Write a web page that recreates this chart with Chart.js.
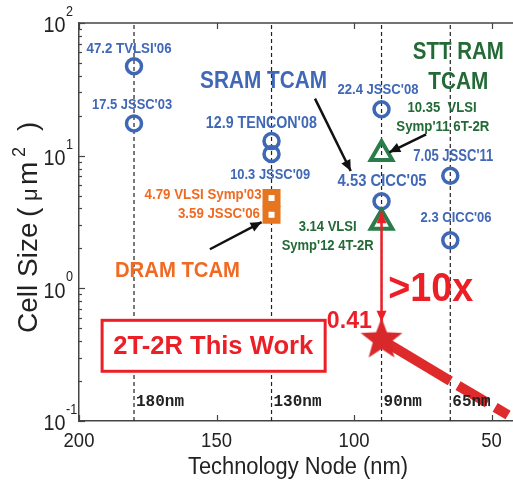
<!DOCTYPE html>
<html><head><meta charset="utf-8">
<script src="https://cdn.jsdelivr.net/npm/chart.js@4.4.1/dist/chart.umd.min.js"></script>
<style>html,body{margin:0;padding:0;background:#fff;}canvas{display:block;}</style>
</head><body>
<canvas id="c" width="513" height="482"></canvas>
<script>
// ---------------- data ----------------
const nodeLines   = [180, 130, 90, 65];
const nodeLabels  = ['180nm', '130nm', '90nm', '65nm'];
const sramNode    = [180, 180, 130, 130, 90, 90, 65, 65];
const sramCell    = [47.2, 17.5, 12.9, 10.3, 22.4, 4.53, 7.05, 2.3];
const sramLabels  = ["47.2 TVLSI'06", "17.5 JSSC'03", "12.9 TENCON'08", "10.3 JSSC'09", "22.4 JSSC'08", "4.53 CICC'05", "7.05 JSSC'11", "2.3 CICC'06"];
const dramNode    = [130, 130];
const dramCell    = [4.79, 3.59];
const dramLabels  = ["4.79 VLSI Symp'03", "3.59 JSSC'06"];
const sttNode     = [90, 90];
const sttCell     = [10.35, 3.14];
const sttLabels   = [["10.35  VLSI", "Symp'11 6T-2R"], ["3.14 VLSI", "Symp'12 4T-2R"]];
const thisNode    = [90];
const thisCell    = [0.41];
const trendNode   = [90, 65, 44];
const trendCell   = [0.41, 0.2, 0.111];
const xTickValues = [200, 150, 100, 50];
const yExponents  = [-1, 0, 1, 2];
const xRange      = [42.2, 200];
const yRange      = [0.1, 100];

// ---------------- styles ----------------
const COL = {blue:'#4068B6', orange:'#F16A22', green:'#236A37', red:'#EC1F27', black:'#111111'};
const FONT = '"Liberation Sans", Arial, Helvetica, sans-serif';

// annotation layout (data units: x = nm, y = cell size); w = text width px
const notes = [
  {t:sramLabels[0], x:181.8, y:65.2, c:'blue', s:14, w:85},
  {t:sramLabels[1], x:180.7, y:24.8, c:'blue', s:15, w:80},
  {t:'SRAM TCAM',   x:132.9, y:37.6, c:'blue', s:23, w:127},
  {t:sramLabels[2], x:133.7, y:18.0, c:'blue', s:16, w:111},
  {t:sramLabels[3], x:130.5, y:7.33, c:'blue', s:15, w:80},
  {t:dramLabels[0], x:133.6, y:5.18, c:'orange', s:15, w:117, a:'right'},
  {t:dramLabels[1], x:134.2, y:3.75, c:'orange', s:15, w:82, a:'right'},
  {t:'DRAM TCAM',   x:164.2, y:1.403, c:'orange', s:22, w:125},
  {t:sramLabels[4], x:91.3, y:32.0, c:'blue', s:15, w:81},
  {t:'STT RAM',     x:62.1, y:61.4, c:'green', s:23, w:91},
  {t:'TCAM',        x:62.1, y:37.1, c:'green', s:24, w:60},
  {t:sttLabels[0][0], x:68.0, y:23.3, c:'green', s:15, w:69},
  {t:sttLabels[0][1], x:67.7, y:16.7, c:'green', s:15, w:93},
  {t:sramLabels[5], x:89.8, y:6.54, c:'blue', s:16, w:89},
  {t:sramLabels[6], x:63.9, y:10.08, c:'blue', s:16, w:80},
  {t:sramLabels[7], x:62.9, y:3.48, c:'blue', s:15, w:71},
  {t:sttLabels[1][0], x:109.6, y:2.95, c:'green', s:14, w:58},
  {t:sttLabels[1][1], x:109.6, y:2.12, c:'green', s:14, w:92},
  {t:'>10x',        x:72.1, y:1.04, c:'red', s:41, w:85},
  {t:'0.41',        x:101.7, y:0.584, c:'red', s:24, w:45},
  {t:'2T-2R This Work', x:151.2, y:0.373, c:'red', s:25, w:200}
];
const arrows = [
  {x1:114.2, y1:26.9, x2:101.2, y2:7.66, c:'black'},
  {x1:73.8,  y1:14.5, x2:87.2,  y2:10.6, c:'black'},
  {x1:152.4, y1:1.97, x2:133.6, y2:3.16, c:'black'},
  {x1:90, y1:0.56, x2:90, y2:3.74, c:'red', both:true}
];
const workBox = {x1:191.6, x2:110.5, y1:0.574, y2:0.237};

// ---------------- helpers ----------------
function drawText(ctx, s, px, py, o) {
  ctx.save();
  ctx.font = (o.weight || 'bold') + ' ' + o.s + 'px ' + (o.family || FONT);
  const m = ctx.measureText(s).width;
  const sx = o.w ? o.w / m : (o.sx || 1);
  ctx.translate(px, py);
  ctx.scale(sx, 1);
  ctx.textAlign = o.a || 'center';
  ctx.textBaseline = 'alphabetic';
  ctx.fillStyle = o.color;
  ctx.fillText(s, 0, o.s * 0.358);
  ctx.restore();
}
function arrow(ctx, x1, y1, x2, y2, color, both) {
  const L = 11, W = 5;
  const drawHead = (ax, ay, bx, by) => {
    const ang = Math.atan2(by - ay, bx - ax);
    ctx.beginPath();
    ctx.moveTo(bx, by);
    ctx.lineTo(bx - L * Math.cos(ang) + W * Math.sin(ang), by - L * Math.sin(ang) - W * Math.cos(ang));
    ctx.lineTo(bx - L * Math.cos(ang) - W * Math.sin(ang), by - L * Math.sin(ang) + W * Math.cos(ang));
    ctx.closePath();
    ctx.fill();
  };
  ctx.save();
  ctx.strokeStyle = color; ctx.fillStyle = color; ctx.lineWidth = 2.5;
  ctx.beginPath(); ctx.moveTo(x1, y1); ctx.lineTo(x2, y2); ctx.stroke();
  drawHead(x1, y1, x2, y2);
  if (both) drawHead(x2, y2, x1, y1);
  ctx.restore();
}
function starImage(R, color) {
  const cv = document.createElement('canvas');
  const size = Math.ceil(2 * R + 2);
  cv.width = size; cv.height = size;
  const g = cv.getContext('2d');
  const c = size / 2, r = R * 0.42;
  g.beginPath();
  for (let i = 0; i < 10; i++) {
    const rad = (i % 2 === 0) ? R : r;
    const a = -Math.PI / 2 + i * Math.PI / 5;
    const px = c + rad * Math.cos(a), py = c + rad * Math.sin(a);
    if (i === 0) g.moveTo(px, py); else g.lineTo(px, py);
  }
  g.closePath();
  g.fillStyle = color; g.fill();
  return cv;
}
const pts = (xs, ys) => xs.map((v, i) => ({x: v, y: ys[i]}));

// ---------------- datasets ----------------
const datasets = [];
datasets.push({
  type: 'scatter', label: 'This work', data: pts(thisNode, thisCell),
  pointStyle: starImage(22, '#D8282A'), pointRadius: 22
});
datasets.push({
  type: 'line', label: 'trend', data: pts(trendNode, trendCell),
  showLine: true, fill: false, pointRadius: 0, borderWidth: 10, borderCapStyle: 'butt',
  borderColor: '#DE2A2B', tension: 0,
  segment: {
    borderDash: c => c.p0DataIndex >= 1 ? [34, 9] : undefined,
    borderDashOffset: c => c.p0DataIndex >= 1 ? 34 : undefined
  }
});
datasets.push({
  type: 'scatter', label: 'STT RAM TCAM', data: pts(sttNode, sttCell),
  pointStyle: 'triangle', pointRadius: 12.5, pointBorderWidth: 4,
  pointBorderColor: '#2A7C4A', pointBackgroundColor: 'rgba(0,0,0,0)'
});
datasets.push({
  type: 'scatter', label: 'DRAM TCAM', data: pts(dramNode, dramCell),
  pointStyle: 'rect', pointRadius: 8.5, pointBorderWidth: 6,
  pointBorderColor: '#E5761F', pointBackgroundColor: '#ffffff'
});
datasets.push({
  type: 'scatter', label: 'SRAM TCAM', data: pts(sramNode, sramCell),
  pointStyle: 'circle', pointRadius: 7.5, pointBorderWidth: 3.5,
  pointBorderColor: '#3E67B6', pointBackgroundColor: 'rgba(0,0,0,0)'
});
nodeLines.forEach(n => datasets.push({
  type: 'line', label: n + 'nm', data: pts([n, n], yRange),
  showLine: true, fill: false, pointRadius: 0, borderWidth: 1.2,
  borderColor: '#222', borderDash: [4, 3]
}));

// ---------------- plugin: axes decorations & annotations ----------------
const deco = {
  id: 'deco',
  afterDatasetsDraw(chart) {
    const {ctx, chartArea: a} = chart;
    const xs = chart.scales.x, ys = chart.scales.y;
    const X = v => xs.getPixelForValue(v), Y = v => ys.getPixelForValue(v);
    ctx.save();
    // top frame
    ctx.strokeStyle = '#444'; ctx.lineWidth = 1.5;
    ctx.beginPath(); ctx.moveTo(a.left, a.top); ctx.lineTo(a.right, a.top); ctx.stroke();
    // x inward ticks
    ctx.lineWidth = 1.2;
    xTickValues.forEach(v => {
      const px = Math.round(X(v)) + 0.5;
      ctx.beginPath(); ctx.moveTo(px, a.bottom); ctx.lineTo(px, a.bottom - 6); ctx.stroke();
      ctx.beginPath(); ctx.moveTo(px, a.top); ctx.lineTo(px, a.top + 6); ctx.stroke();
    });
    // y inward ticks (major + minor)
    for (let e = yExponents[0]; e <= yExponents[yExponents.length - 1]; e++) {
      for (let k = 1; k <= 9; k++) {
        if (e === yExponents[yExponents.length - 1] && k > 1) break;
        const py = Math.round(Y(k * Math.pow(10, e))) + 0.5;
        ctx.beginPath(); ctx.moveTo(a.left, py); ctx.lineTo(a.left + (k === 1 ? 6 : 3), py); ctx.stroke();
      }
    }
    // node labels
    nodeLines.forEach((n, i) => {
      ctx.font = 'bold 16px "Liberation Mono", "Courier New", monospace';
      ctx.fillStyle = '#222'; ctx.textAlign = 'left'; ctx.textBaseline = 'alphabetic';
      ctx.fillText(nodeLabels[i], X(n) + 2, Y(0.13));
    });
    // this-work box
    const bx1 = X(workBox.x1), bx2 = X(workBox.x2), by1 = Y(workBox.y1), by2 = Y(workBox.y2);
    ctx.fillStyle = '#fff'; ctx.fillRect(bx1, by1, bx2 - bx1, by2 - by1);
    ctx.strokeStyle = COL.red; ctx.lineWidth = 3;
    ctx.strokeRect(bx1, by1, bx2 - bx1, by2 - by1);
    ctx.restore();
    // arrows
    arrows.forEach(r => arrow(ctx, X(r.x1), Y(r.y1), X(r.x2), Y(r.y2), COL[r.c], r.both));
    // labels
    notes.forEach(n => drawText(ctx, n.t, X(n.x), Y(n.y), {s: n.s, w: n.w, a: n.a, color: COL[n.c]}));
  },
  afterDraw(chart) {
    const {ctx, chartArea: a} = chart;
    const xs = chart.scales.x, ys = chart.scales.y;
    // x tick labels
    xTickValues.forEach(v => drawText(ctx, String(v), xs.getPixelForValue(v), a.bottom + 18,
      {s: 21, sx: 0.88, weight: 'normal', color: '#222'}));
    // y tick labels 10^e
    yExponents.forEach(e => {
      const py = ys.getPixelForValue(Math.pow(10, e));
      drawText(ctx, '10', a.left - 13.5, py + 1.5, {s: 22, sx: 0.9, weight: 'normal', color: '#222', a: 'right'});
      drawText(ctx, String(e), a.left - 13, py - 12, {s: 14, sx: 0.9, weight: 'normal', color: '#222', a: 'left'});
    });
    // x title
    drawText(ctx, 'Technology Node (nm)', (a.left + a.right) / 2 + 2, a.bottom + 44.5,
      {s: 23, w: 220, weight: 'normal', color: '#222'});
    // y title (rotated, with superscript)
    ctx.save();
    const start = (a.top + a.bottom) / 2 + 111;
    ctx.translate(37, start);
    ctx.rotate(-Math.PI / 2);
    ctx.fillStyle = '#222'; ctx.textAlign = 'left'; ctx.textBaseline = 'alphabetic';
    const pieces = [
      {t: 'Cell Size', at: 0, s: 28, up: 0},
      {t: '(', at: 116, s: 28, up: 0},
      {t: '\u03BC', at: 132, s: 22, up: 0},
      {t: 'm', at: 148, s: 28, up: 0},
      {t: '2', at: 176, s: 18, up: 12},
      {t: ')', at: 202, s: 28, up: 0}
    ];
    pieces.forEach(p => {
      ctx.font = p.s + 'px ' + FONT;
      ctx.fillText(p.t, p.at, -p.up);
    });
    ctx.restore();
  }
};

new Chart(document.getElementById('c'), {
  type: 'scatter',
  data: {datasets},
  options: {
    responsive: false,
    animation: false,
    events: [],
    layout: {autoPadding: false, padding: {left: 79, top: 23, right: 0, bottom: 61}},
    plugins: {legend: {display: false}, tooltip: {enabled: false}},
    scales: {
      x: {
        type: 'linear', reverse: true, min: xRange[0], max: xRange[1],
        ticks: {display: false}, title: {display: false},
        grid: {display: false, drawTicks: false},
        border: {display: true, color: '#444', width: 1.5}
      },
      y: {
        type: 'logarithmic', min: yRange[0], max: yRange[1],
        ticks: {display: false}, title: {display: false},
        grid: {display: false, drawTicks: false},
        border: {display: true, color: '#444', width: 1.5}
      }
    }
  },
  plugins: [deco]
});
</script>
</body></html>
